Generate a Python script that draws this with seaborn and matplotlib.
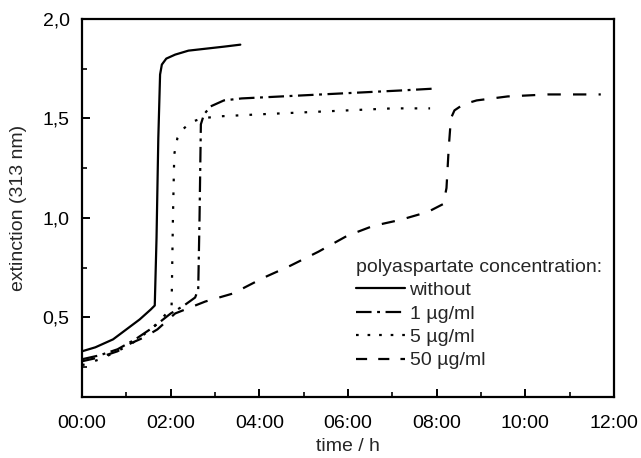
import numpy as np
import pandas as pd
import matplotlib
matplotlib.use("Agg")
import matplotlib.pyplot as plt
import seaborn as sns
from matplotlib.lines import Line2D
from matplotlib.ticker import MultipleLocator, FuncFormatter

# ---- data (time in hours, extinction at 313 nm) ----
t_without = [0, 0.3, 0.7, 1.0, 1.3, 1.55, 1.64, 1.68, 1.72, 1.76, 1.8, 1.9, 2.1, 2.4, 2.8, 3.2, 3.57]
y_without = [0.33, 0.35, 0.39, 0.44, 0.49, 0.54, 0.56, 0.9, 1.4, 1.72, 1.77, 1.80, 1.82, 1.84, 1.85, 1.86, 1.87]

t_1 = [0, 0.4, 0.8, 1.2, 1.6, 2.0, 2.3, 2.55, 2.62, 2.65, 2.68, 2.75, 2.9, 3.2, 3.6, 4.5, 5.4, 6.3, 7.2, 8.0]
y_1 = [0.29, 0.31, 0.34, 0.39, 0.45, 0.52, 0.56, 0.60, 0.64, 1.0, 1.47, 1.52, 1.56, 1.59, 1.60, 1.61, 1.62, 1.63, 1.64, 1.65]

t_5 = [0, 0.4, 0.8, 1.2, 1.6, 1.95, 2.02, 2.05, 2.08, 2.15, 2.25, 2.45, 2.7, 3.1, 4.0, 5.0, 6.0, 7.0, 7.85]
y_5 = [0.26, 0.29, 0.33, 0.38, 0.45, 0.53, 0.56, 1.0, 1.32, 1.40, 1.44, 1.48, 1.50, 1.51, 1.52, 1.53, 1.54, 1.55, 1.55]

t_50 = [0, 0.4, 0.8, 1.1, 1.4, 1.7, 2.1, 2.78, 3.4, 4.1, 4.7, 5.33, 5.98, 6.57, 7.18, 7.8, 8.15,
        8.22, 8.27, 8.32, 8.4, 8.6, 8.9, 9.6, 10.5, 11.7]
y_50 = [0.28, 0.30, 0.33, 0.37, 0.40, 0.44, 0.52, 0.58, 0.62, 0.70, 0.76, 0.83, 0.91, 0.96, 0.99, 1.03, 1.07,
        1.15, 1.35, 1.50, 1.54, 1.57, 1.59, 1.61, 1.62, 1.62]

labels = ["without", "1 \u00b5g/ml", "5 \u00b5g/ml", "50 \u00b5g/ml"]
series_t = [t_without, t_1, t_5, t_50]
series_y = [y_without, y_1, y_5, y_50]

x_ticks = [0, 2, 4, 6, 8, 10, 12]
x_ticklabels = ["00:00", "02:00", "04:00", "06:00", "08:00", "10:00", "12:00"]
y_ticks = [0.5, 1.0, 1.5, 2.0]

df = pd.concat([pd.DataFrame({"time": t, "ext": y, "conc": lab})
                for t, y, lab in zip(series_t, series_y, labels)], ignore_index=True)

sns.set_theme(style="white")
plt.rcParams["font.family"] = ["Liberation Sans", "DejaVu Sans"]

fig, ax = plt.subplots(figsize=(6.41, 4.58), dpi=100)
fig.subplots_adjust(left=0.128, right=0.958, top=0.959, bottom=0.133)

LW = 1.6
dash_map = {
    "without": "",
    "1 \u00b5g/ml": (7, 2.5, 1.3, 2.5),
    "5 \u00b5g/ml": (1.2, 5),
    "50 \u00b5g/ml": (6, 5.5),
}
sns.lineplot(data=df, x="time", y="ext", hue="conc", style="conc",
             palette=["black"] * 4, dashes=dash_map, linewidth=LW,
             sort=False, estimator=None, legend=False, ax=ax)

ax.set_xlim(0, 12)
ax.set_ylim(0.1, 2.0)
ax.set_xticks(x_ticks)
ax.set_xticklabels(x_ticklabels)
ax.xaxis.set_minor_locator(MultipleLocator(1))
ax.set_yticks(y_ticks)
ax.yaxis.set_minor_locator(MultipleLocator(0.25))
ax.yaxis.set_major_formatter(FuncFormatter(lambda v, p: f"{v:.1f}".replace(".", ",")))

ax.tick_params(axis="both", which="major", direction="in", length=6, width=1.4,
               labelsize=14, colors="black", pad=9, bottom=True, left=True)
ax.tick_params(axis="x", which="major", pad=13)
ax.tick_params(axis="both", which="minor", direction="in", length=3.5, width=1.4,
               bottom=True, left=True)
for s in ax.spines.values():
    s.set_color("black")
    s.set_linewidth(1.6)

ax.set_xlabel("time / h", fontsize=14, labelpad=4)
ax.set_ylabel("extinction (313 nm)", fontsize=14, labelpad=11)

handles = [Line2D([0], [0], color="black", lw=LW, linestyle="-"),
           Line2D([0], [0], color="black", lw=LW, linestyle=(0, (7, 2.5, 1.3, 2.5))),
           Line2D([0], [0], color="black", lw=LW, linestyle=(0, (1.2, 4))),
           Line2D([0], [0], color="black", lw=LW, linestyle=(0, (5, 5)))]
leg = ax.legend(handles, labels, title="polyaspartate concentration:",
                loc="upper left", bbox_to_anchor=(0.515, 0.366), frameon=False,
                fontsize=14, title_fontsize=14, handlelength=2.5, handletextpad=0.25,
                labelspacing=0.3, borderpad=0.0, borderaxespad=0.0)
leg._legend_box.align = "left"

fig.savefig("out.png", dpi=100)
